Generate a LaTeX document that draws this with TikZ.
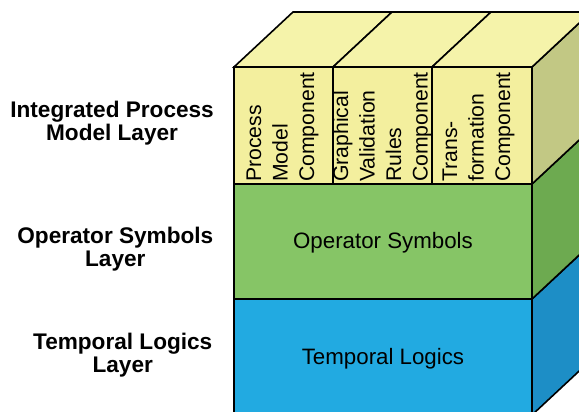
\documentclass[tikz,border=0pt]{standalone}
\usepackage{fontspec}
\setmainfont{Liberation Sans}
\usetikzlibrary{positioning}
\definecolor{zlutaC}{HTML}{F3EF9E}
\definecolor{zlutaV}{HTML}{F5F3AA}
\definecolor{zlutaB}{HTML}{C2C884}
\definecolor{zelenaC}{HTML}{86C566}
\definecolor{zelenaB}{HTML}{6DAA50}
\definecolor{modraC}{HTML}{22AAE1}
\definecolor{modraB}{HTML}{1D8EC6}
\tikzset{
  stena/.style={draw=black,line width=1.6pt,line join=miter},
  popis/.style={font=\fontsize{22.6}{22.5}\selectfont\bfseries,align=center,anchor=east,inner sep=0pt},
  svisly/.style={rotate=90,anchor=west,align=left,font=\fontsize{21.2}{26.5}\selectfont,inner sep=1pt},
  vnitrni/.style={font=\fontsize{22.3}{26}\selectfont,inner sep=0pt},
}

\begin{document}
\begin{tikzpicture}[x=1pt,y=1pt]
  \useasboundingbox (0,0) rectangle (579,412);
  \clip (0,0) rectangle (579,412);
  % predni steny
  \filldraw[stena,fill=modraC] (234,-3) rectangle (532,113);
  \filldraw[stena,fill=zelenaC] (234,113) rectangle (532,228);
  \filldraw[stena,fill=zlutaC] (234,228) rectangle (333,345);
  \filldraw[stena,fill=zlutaC] (333,228) rectangle (432,345);
  \filldraw[stena,fill=zlutaC] (432,228) rectangle (532,345);
  % bocni steny
  \filldraw[stena,fill=modraB] (532,-3) -- (591,52) -- (591,168) -- (532,113) -- cycle;
  \filldraw[stena,fill=zelenaB] (532,113) -- (591,168) -- (591,283) -- (532,228) -- cycle;
  \filldraw[stena,fill=zlutaB] (532,228) -- (591,283) -- (591,400) -- (532,345) -- cycle;
  % horni steny
  \filldraw[stena,fill=zlutaV] (234,345) -- (293,400) -- (392,400) -- (333,345) -- cycle;
  \filldraw[stena,fill=zlutaV] (333,345) -- (392,400) -- (491,400) -- (432,345) -- cycle;
  \filldraw[stena,fill=zlutaV] (432,345) -- (491,400) -- (591,400) -- (532,345) -- cycle;
  % popisky vrstev
  \node[popis] (ipml) at (214,289) {Integrated Process\\Model Layer};
  \node[popis] (osl) at (213.5,163) {Operator Symbols\\Layer};
  \node[popis] (tll) at (212.5,57) {Temporal Logics\\Layer};
  % texty ve vrstvach
  \node[vnitrni] (os) at (383,169.5) {Operator Symbols};
  \node[vnitrni] (tl) at (383,53) {Temporal Logics};
  \node[svisly] (pmc) at (282.5,229) {Process\\Model\\Component};
  \node[svisly] (gvr) at (382.5,229) {Graphical\\Validation\\Rules\\Component};
  \node[svisly] (tfc) at (478.5,229) {Trans-\\formation\\Component};
\end{tikzpicture}
\end{document}
